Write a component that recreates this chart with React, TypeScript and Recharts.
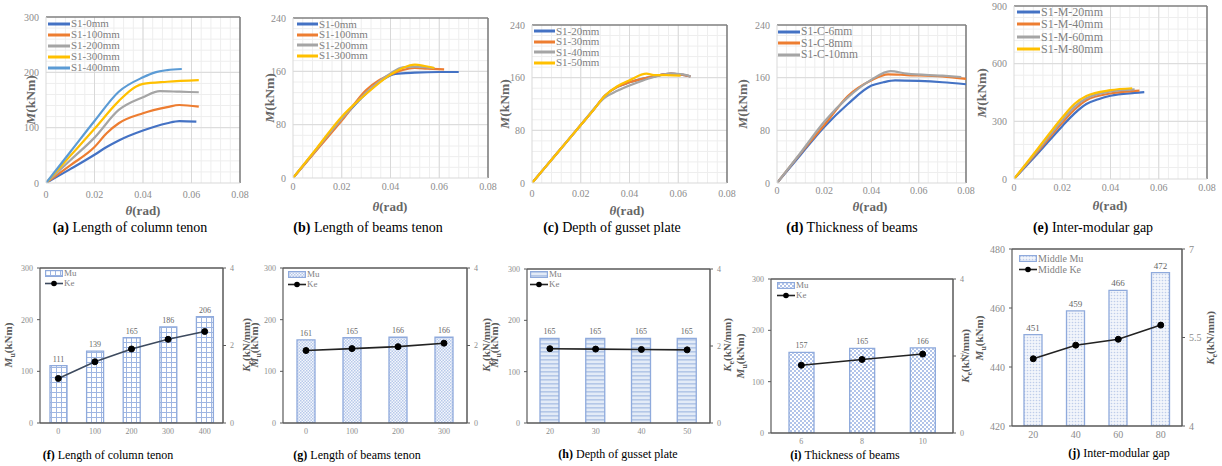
import React from 'react';
import {
  LineChart, Line, XAxis, YAxis, ReferenceLine, ComposedChart, Bar, LabelList, Legend,
} from 'recharts';

const FONT = '"Liberation Serif", "Times New Roman", serif';

// ---------- top row: moment-rotation curves ----------
const thetaTicks = [0, 0.02, 0.04, 0.06, 0.08];
const yTicks300 = [0, 100, 200, 300];
const yTicks240 = [0, 80, 160, 240];
const yTicks900 = [0, 300, 600, 900];

const colBlue = '#4472C4';
const colOrange = '#ED7D31';
const colGray = '#A5A5A5';
const colYellow = '#FFC000';
const colLightBlue = '#5B9BD5';

type Pt = [number, number];

// (a) Length of column tenon
const aNames = ['S1-0mm', 'S1-100mm', 'S1-200mm', 'S1-300mm', 'S1-400mm'];
const a0: Pt[] = [[0, 0], [0.01, 25], [0.02, 51], [0.025, 65], [0.03, 77], [0.04, 95], [0.05, 108], [0.055, 112], [0.062, 111]];
const a100: Pt[] = [[0, 0], [0.01, 32], [0.02, 65], [0.025, 90], [0.03, 108], [0.04, 126], [0.05, 137], [0.055, 141], [0.063, 138]];
const a200: Pt[] = [[0, 0], [0.01, 41], [0.02, 82], [0.03, 132], [0.04, 155], [0.047, 166], [0.055, 165], [0.063, 164]];
const a300: Pt[] = [[0, 0], [0.01, 49], [0.02, 98], [0.03, 148], [0.037, 174], [0.04, 179], [0.05, 183], [0.063, 186]];
const a400: Pt[] = [[0, 0], [0.01, 56], [0.02, 112], [0.03, 165], [0.04, 191], [0.045, 200], [0.05, 204], [0.056, 206]];

// (b) Length of beams tenon
const bNames = ['S1-0mm', 'S1-100mm', 'S1-200mm', 'S1-300mm'];
const b0: Pt[] = [[0, 0], [0.01, 44], [0.02, 88], [0.03, 127], [0.037, 148], [0.042, 156], [0.05, 158], [0.06, 159], [0.068, 159]];
const b100: Pt[] = [[0, 0], [0.01, 43], [0.02, 86], [0.03, 132], [0.035, 146], [0.04, 155], [0.045, 162], [0.05, 165], [0.055, 164], [0.062, 163]];
const b200: Pt[] = [[0, 0], [0.01, 45], [0.02, 89], [0.03, 128], [0.04, 157], [0.045, 166], [0.05, 167], [0.055, 166], [0.058, 165]];
const b300: Pt[] = [[0, 0], [0.01, 46], [0.02, 92], [0.025, 110], [0.03, 126], [0.04, 155], [0.045, 165], [0.05, 170], [0.054, 168], [0.058, 165]];

// (c) Depth of gusset plate
const cNames = ['S1-20mm', 'S1-30mm', 'S1-40mm', 'S1-50mm'];
const c20: Pt[] = [[0, 0], [0.01, 44], [0.02, 88], [0.025, 110], [0.03, 133], [0.035, 146], [0.04, 153], [0.05, 162], [0.057, 166], [0.065, 162]];
const c30: Pt[] = [[0, 0], [0.01, 44], [0.02, 88], [0.025, 110], [0.03, 133], [0.035, 146], [0.04, 153], [0.05, 162], [0.057, 166], [0.065, 162]];
const c40: Pt[] = [[0, 0], [0.01, 44], [0.02, 88], [0.025, 111], [0.03, 130], [0.035, 140], [0.04, 148], [0.045, 155], [0.05, 161], [0.057, 166], [0.062, 165], [0.065, 162]];
const c50: Pt[] = [[0, 0], [0.01, 44], [0.02, 88], [0.025, 110], [0.03, 133], [0.035, 147], [0.04, 156], [0.047, 166], [0.05, 164], [0.055, 164], [0.061, 163]];

// (d) Thickness of beams
const dNames = ['S1-C-6mm', 'S1-C-8mm', 'S1-C-10mm'];
const d6: Pt[] = [[0, 0], [0.01, 43], [0.02, 85], [0.03, 120], [0.04, 148], [0.045, 153], [0.05, 156], [0.06, 155], [0.07, 153], [0.08, 150]];
const d8: Pt[] = [[0, 0], [0.01, 45], [0.02, 88], [0.03, 132], [0.04, 156], [0.047, 165], [0.055, 164], [0.07, 162], [0.08, 158]];
const d10: Pt[] = [[0, 0], [0.01, 46], [0.02, 93], [0.03, 130], [0.04, 157], [0.048, 170], [0.055, 166], [0.07, 163], [0.078, 161]];

// (e) Inter-modular gap
const eNames = ['S1-M-20mm', 'S1-M-40mm', 'S1-M-60mm', 'S1-M-80mm'];
const e20: Pt[] = [[0, 0], [0.01, 135], [0.02, 275], [0.025, 340], [0.03, 390], [0.035, 415], [0.04, 433], [0.05, 448], [0.054, 452]];
const e40: Pt[] = [[0, 0], [0.01, 145], [0.02, 292], [0.025, 360], [0.03, 410], [0.04, 445], [0.05, 458], [0.052, 460]];
const e60: Pt[] = [[0, 0], [0.01, 152], [0.02, 305], [0.025, 375], [0.03, 420], [0.04, 455], [0.05, 466]];
const e80: Pt[] = [[0, 0], [0.01, 160], [0.02, 320], [0.025, 390], [0.03, 432], [0.04, 462], [0.049, 472]];

// ---------- bottom row: Mu bars + Ke line ----------
const fCats = ['0', '100', '200', '300', '400'];
const fMu = [111, 139, 165, 186, 206];
const fKe = [1.15, 1.58, 1.91, 2.16, 2.36];

const gCats = ['0', '100', '200', '300'];
const gMu = [161, 165, 166, 166];
const gKe = [1.87, 1.92, 1.97, 2.06];

const hCats = ['20', '30', '40', '50'];
const hMu = [165, 165, 165, 165];
const hKe = [1.93, 1.92, 1.91, 1.9];

const iCats = ['6', '8', '10'];
const iMu = [157, 165, 166];
const iKe = [1.76, 1.91, 2.05];

const jCats = ['20', '40', '60', '80'];
const jMu = [451, 459, 466, 472];
const jKe = [5.14, 5.37, 5.47, 5.71];

const muTicks = [0, 100, 200, 300];
const keTicks = [0, 2, 4];
const jMuTicks = [420, 440, 460, 480];
const jKeTicks = [4, 5.5, 7];

// ---------- helpers ----------
const toObj = (arr: Pt[]) => arr.map(([x, y]) => ({ x, y }));
const fmtTheta = (v: number) => (v === 0 ? '0' : String(v));
const stepList = (max: number, step: number) => {
  const out: number[] = [];
  for (let i = 1; step * i < max - 1e-9; i++) out.push(+(step * i).toFixed(6));
  return out;
};

type Series = { name: string; color: string; data: Pt[] };

function Abs({ x, y, rotate, size, color, children, bold }: any) {
  return (
    <div
      style={{
        position: 'absolute', left: x, top: y,
        transform: `translate(-50%,-50%)${rotate ? ' rotate(-90deg)' : ''}`,
        fontSize: size, color, whiteSpace: 'nowrap', fontFamily: FONT,
        fontWeight: bold ? 700 : 400, lineHeight: 1,
      }}
    >
      {children}
    </div>
  );
}

function CurvePanel(props: {
  rect: [number, number, number, number];
  yTicks: number[];
  yMinorStep: number;
  series: Series[];
  legend: { x: number; y: number; step: number; size: number; lineW: number };
  tickGap: number;
  yLab: [number, number];
  xLab: [number, number];
  cap: [number, number];
  capTag: string;
  capText: string;
}) {
  const { rect, yTicks, yMinorStep, series, legend, tickGap, yLab, xLab, cap, capTag, capText } = props;
  const [x1, y1, x2, y2] = rect;
  const YW = 46, XH = 30, MT = 6, MR = 14;
  const w = x2 - x1 + YW + MR;
  const h = y2 - y1 + MT + XH;
  const yMax = yTicks[yTicks.length - 1];
  const left = x1 - YW, top = y1 - MT;
  const xMinor = stepList(0.08, 0.004);
  const yMinor = stepList(yMax, yMinorStep);
  const tickStyle = { fontSize: 10, fill: '#8c8c8c', fontFamily: FONT };
  return (
    <>
      <div style={{ position: 'absolute', left, top }}>
        <LineChart width={w} height={h} margin={{ top: MT, right: MR, bottom: 0, left: 0 }}>
          <XAxis type="number" dataKey="x" domain={[0, 0.08]} ticks={thetaTicks} tickFormatter={fmtTheta}
            tick={tickStyle} tickLine={false} tickSize={0} tickMargin={tickGap} height={XH}
            axisLine={{ stroke: '#d9d9d9' }} allowDataOverflow />
          <YAxis type="number" domain={[0, yMax]} ticks={yTicks} tick={tickStyle} tickLine={false}
            tickSize={0} tickMargin={7} width={YW} axisLine={{ stroke: '#d9d9d9' }} allowDataOverflow />
          {xMinor.map((v) => <ReferenceLine key={'mx' + v} x={v} stroke="#eeeeee" strokeWidth={1} />)}
          {yMinor.map((v) => <ReferenceLine key={'my' + v} y={v} stroke="#eeeeee" strokeWidth={1} />)}
          {thetaTicks.slice(1, -1).map((v) => <ReferenceLine key={'Mx' + v} x={v} stroke="#d9d9d9" />)}
          {yTicks.slice(1, -1).map((v) => <ReferenceLine key={'My' + v} y={v} stroke="#d9d9d9" />)}
          <ReferenceLine y={yMax} stroke="#7f7f7f" strokeWidth={1.6} />
          <ReferenceLine x={0.08} stroke="#7f7f7f" strokeWidth={1.6} />
          {series.map((s) => (
            <Line key={s.name} name={s.name} data={toObj(s.data)} dataKey="y" type="monotone"
              stroke={s.color} strokeWidth={2.2} dot={false} isAnimationActive={false} />
          ))}
          <Legend layout="vertical" align="center" verticalAlign="middle"
            wrapperStyle={{ left: legend.x - left, top: legend.y - top, width: 'auto', height: 'auto' }}
            content={() => (
              <div style={{ fontFamily: FONT }}>
                {series.map((s) => (
                  <div key={s.name} style={{ display: 'flex', alignItems: 'center', height: legend.step }}>
                    <svg width={legend.lineW} height={4} style={{ display: 'block' }}>
                      <line x1={0} y1={2} x2={legend.lineW} y2={2} stroke={s.color} strokeWidth={3} />
                    </svg>
                    <span style={{ fontSize: legend.size, color: '#7f7f7f', marginLeft: 1, lineHeight: 1 }}>{s.name}</span>
                  </div>
                ))}
              </div>
            )} />
        </LineChart>
      </div>
      <Abs x={yLab[0]} y={yLab[1]} rotate size={13.5} color="#666" bold><i>M</i>(kNm)</Abs>
      <Abs x={xLab[0]} y={xLab[1]} size={13} color="#666" bold><i>θ</i>(rad)</Abs>
      <Abs x={cap[0]} y={cap[1]} size={14} color="#000"><b>{capTag}</b> {capText}</Abs>
    </>
  );
}

function PatternDef({ id, kind }: { id: string; kind: string }) {
  if (kind === 'grid') {
    return (
      <pattern id={id} width={5} height={5} patternUnits="userSpaceOnUse">
        <rect width={5} height={5} fill="#ffffff" />
        <path d="M0 0.5H5M0.5 0V5" stroke="#9fb6e2" strokeWidth={1} />
      </pattern>
    );
  }
  if (kind === 'dots') {
    return (
      <pattern id={id} width={3} height={3} patternUnits="userSpaceOnUse">
        <rect width={3} height={3} fill="#f4f7fc" />
        <rect width={1.5} height={1.5} fill="#b8c9ea" />
        <rect x={1.5} y={1.5} width={1.5} height={1.5} fill="#b8c9ea" />
      </pattern>
    );
  }
  if (kind === 'stripes') {
    return (
      <pattern id={id} width={4} height={4} patternUnits="userSpaceOnUse">
        <rect width={4} height={4} fill="#e3ebf7" />
        <rect width={4} height={1.6} fill="#b4c7e7" />
      </pattern>
    );
  }
  if (kind === 'cross') {
    return (
      <pattern id={id} width={4} height={4} patternUnits="userSpaceOnUse">
        <rect width={4} height={4} fill="#ffffff" />
        <path d="M0 0L4 4M4 0L0 4" stroke="#a9bde6" strokeWidth={0.9} />
      </pattern>
    );
  }
  return (
    <pattern id={id} width={3} height={3} patternUnits="userSpaceOnUse">
      <rect width={3} height={3} fill="#f2f5fb" />
      <circle cx={1.5} cy={1.5} r={0.8} fill="#bfcdea" />
    </pattern>
  );
}

function BarPanel(props: {
  id: string;
  rect: [number, number, number, number];
  cats: string[];
  mu: number[];
  ke: number[];
  lTicks: number[];
  rTicks: number[];
  barSize: number;
  pattern: string;
  lineColor: string;
  legend: { x: number; y: number; step: number; size: number };
  muName: string;
  keName: string;
  tickSize: number;
  labelSize: number;
  yLabL: [number, number];
  yLabR: [number, number];
  cap: [number, number];
  capTag: string;
  capText: string;
}) {
  const p = props;
  const [x1, y1, x2, y2] = p.rect;
  const YWL = 34, YWR = 24, XH = 24, MT = 6;
  const w = x2 - x1 + YWL + YWR;
  const h = y2 - y1 + MT + XH;
  const left = x1 - YWL, top = y1 - MT;
  const data = p.cats.map((c, i) => ({ cat: c, mu: p.mu[i], ke: p.ke[i] }));
  const tickStyle = { fontSize: p.tickSize, fill: '#8c8c8c', fontFamily: FONT };
  const patId = 'pat-' + p.id;
  const frame = '#595959';
  return (
    <>
      <div style={{ position: 'absolute', left, top }}>
        <ComposedChart width={w} height={h} data={data} margin={{ top: MT, right: 0, bottom: 0, left: 0 }}>
          <defs>
            <PatternDef id={patId} kind={p.pattern} />
          </defs>
          <XAxis dataKey="cat" tick={tickStyle} tickLine={false} tickSize={0} tickMargin={5} height={XH}
            axisLine={{ stroke: frame, strokeWidth: 1.5 }} />
          <YAxis yAxisId="l" domain={[p.lTicks[0], p.lTicks[p.lTicks.length - 1]]} ticks={p.lTicks}
            tick={tickStyle} tickLine={{ stroke: frame }} tickSize={3} tickMargin={4} width={YWL}
            axisLine={{ stroke: frame, strokeWidth: 1.2 }} allowDataOverflow />
          <YAxis yAxisId="r" orientation="right" domain={[p.rTicks[0], p.rTicks[p.rTicks.length - 1]]}
            ticks={p.rTicks} tick={tickStyle} tickLine={{ stroke: frame }} tickSize={3} tickMargin={4}
            width={YWR} axisLine={{ stroke: frame, strokeWidth: 1.5 }} allowDataOverflow />
          <ReferenceLine yAxisId="l" y={p.lTicks[p.lTicks.length - 1]} stroke={frame} strokeWidth={1.5} />
          <Bar yAxisId="l" dataKey="mu" name={p.muName} barSize={p.barSize} fill={`url(#${patId})`}
            stroke="#8faadc" strokeWidth={1.3} isAnimationActive={false}>
            <LabelList dataKey="mu" position="top" offset={4} fontSize={p.labelSize} fill="#666" fontFamily={FONT} />
          </Bar>
          <Line yAxisId="r" dataKey="ke" name={p.keName} type="linear" stroke={p.lineColor} strokeWidth={1.6}
            dot={{ r: 3, fill: '#000', stroke: '#000', strokeWidth: 1 }} isAnimationActive={false} />
          <Legend layout="vertical" align="center" verticalAlign="middle"
            wrapperStyle={{ left: p.legend.x - left, top: p.legend.y - top, width: 'auto', height: 'auto' }}
            content={() => (
              <div style={{ fontFamily: FONT, color: '#7f7f7f', fontSize: p.legend.size, lineHeight: 1 }}>
                <div style={{ display: 'flex', alignItems: 'center', height: p.legend.step }}>
                  <svg width={18} height={7} style={{ display: 'block' }}>
                    <rect x={0.6} y={0.6} width={16.8} height={5.8} fill={`url(#${patId})`} stroke="#8faadc" strokeWidth={1.2} />
                  </svg>
                  <span style={{ marginLeft: 1 }}>{p.muName}</span>
                </div>
                <div style={{ display: 'flex', alignItems: 'center', height: p.legend.step }}>
                  <svg width={18} height={7} style={{ display: 'block' }}>
                    <line x1={0} y1={3.5} x2={18} y2={3.5} stroke={p.lineColor} strokeWidth={1.6} />
                    <circle cx={9} cy={3.5} r={2.8} fill="#000" />
                  </svg>
                  <span style={{ marginLeft: 1 }}>{p.keName}</span>
                </div>
              </div>
            )} />
        </ComposedChart>
      </div>
      <Abs x={p.yLabL[0]} y={p.yLabL[1]} rotate size={11} color="#595959" bold>
        <i>M</i><sub style={{ fontSize: 8 }}>u</sub>(kNm)
      </Abs>
      <Abs x={p.yLabR[0]} y={p.yLabR[1]} rotate size={11} color="#595959" bold>
        <i>K</i><sub style={{ fontSize: 8 }}>e</sub>(kN/mm)
      </Abs>
      <Abs x={p.cap[0]} y={p.cap[1]} size={12} color="#000"><b>{p.capTag}</b> {p.capText}</Abs>
    </>
  );
}

export default function App() {
  return (
    <div style={{ position: 'absolute', left: 0, top: 0, width: 1222, height: 466, background: '#fff', overflow: 'hidden', fontFamily: FONT }}>
      <CurvePanel rect={[46, 17, 240, 183]} yTicks={yTicks300} yMinorStep={20}
        series={[
          { name: aNames[0], color: colBlue, data: a0 },
          { name: aNames[1], color: colOrange, data: a100 },
          { name: aNames[2], color: colGray, data: a200 },
          { name: aNames[3], color: colYellow, data: a300 },
          { name: aNames[4], color: colLightBlue, data: a400 },
        ]}
        legend={{ x: 48, y: 18, step: 11, size: 11, lineW: 22 }} tickGap={8}
        yLab={[31, 100]} xLab={[143, 210]} cap={[130, 228]} capTag="(a)" capText="Length of column tenon" />
      <CurvePanel rect={[293, 18, 488, 178]} yTicks={yTicks240} yMinorStep={16}
        series={[
          { name: bNames[0], color: colBlue, data: b0 },
          { name: bNames[1], color: colOrange, data: b100 },
          { name: bNames[2], color: colGray, data: b200 },
          { name: bNames[3], color: colYellow, data: b300 },
        ]}
        legend={{ x: 297, y: 19, step: 10.5, size: 11, lineW: 21 }} tickGap={5}
        yLab={[270, 98]} xLab={[390, 206]} cap={[368, 228]} capTag="(b)" capText="Length of beams tenon" />
      <CurvePanel rect={[532, 25, 727, 183]} yTicks={yTicks240} yMinorStep={16}
        series={[
          { name: cNames[0], color: colBlue, data: c20 },
          { name: cNames[1], color: colOrange, data: c30 },
          { name: cNames[2], color: colGray, data: c40 },
          { name: cNames[3], color: colYellow, data: c50 },
        ]}
        legend={{ x: 534, y: 26, step: 10.5, size: 11, lineW: 21 }} tickGap={7}
        yLab={[505, 104]} xLab={[627, 210]} cap={[612, 228]} capTag="(c)" capText="Depth of gusset plate" />
      <CurvePanel rect={[777, 25, 966, 183]} yTicks={yTicks240} yMinorStep={16}
        series={[
          { name: dNames[0], color: colBlue, data: d6 },
          { name: dNames[1], color: colOrange, data: d8 },
          { name: dNames[2], color: colGray, data: d10 },
        ]}
        legend={{ x: 778, y: 26, step: 11.5, size: 11.5, lineW: 22 }} tickGap={4}
        yLab={[743, 104]} xLab={[870, 206]} cap={[852, 228]} capTag="(d)" capText="Thickness of beams" />
      <CurvePanel rect={[1014, 6, 1207, 179]} yTicks={yTicks900} yMinorStep={60}
        series={[
          { name: eNames[0], color: colBlue, data: e20 },
          { name: eNames[1], color: colOrange, data: e40 },
          { name: eNames[2], color: colGray, data: e60 },
          { name: eNames[3], color: colYellow, data: e80 },
        ]}
        legend={{ x: 1017, y: 6, step: 12.3, size: 12, lineW: 23 }} tickGap={5}
        yLab={[982, 93]} xLab={[1110, 205]} cap={[1093, 228]} capTag="(e)" capText="Inter-modular gap" />

      <BarPanel id="f" rect={[40, 268, 223, 423]} cats={fCats} mu={fMu} ke={fKe} lTicks={muTicks} rTicks={keTicks}
        barSize={17} pattern="grid" lineColor="#3d4a5e" legend={{ x: 45, y: 268, step: 10, size: 9 }}
        muName="Mu" keName="Ke" tickSize={8} labelSize={8}
        yLabL={[10, 345]} yLabR={[248, 345]} cap={[108, 455]} capTag="(f)" capText="Length of column tenon" />
      <BarPanel id="g" rect={[283, 268, 467, 423]} cats={gCats} mu={gMu} ke={gKe} lTicks={muTicks} rTicks={keTicks}
        barSize={18} pattern="dots" lineColor="#222" legend={{ x: 288, y: 269, step: 10, size: 9 }}
        muName="Mu" keName="Ke" tickSize={8} labelSize={8}
        yLabL={[256, 345]} yLabR={[488, 345]} cap={[357, 455]} capTag="(g)" capText="Length of beams tenon" />
      <BarPanel id="h" rect={[527, 269, 710, 423]} cats={hCats} mu={hMu} ke={hKe} lTicks={muTicks} rTicks={keTicks}
        barSize={19} pattern="stripes" lineColor="#222" legend={{ x: 530, y: 269, step: 10, size: 9 }}
        muName="Mu" keName="Ke" tickSize={8} labelSize={8}
        yLabL={[496, 345]} yLabR={[729, 345]} cap={[618, 454]} capTag="(h)" capText="Depth of gusset plate" />
      <BarPanel id="i" rect={[771, 279, 953, 433]} cats={iCats} mu={iMu} ke={iKe} lTicks={muTicks} rTicks={keTicks}
        barSize={25} pattern="cross" lineColor="#222" legend={{ x: 777, y: 280, step: 10, size: 9 }}
        muName="Mu" keName="Ke" tickSize={8} labelSize={8}
        yLabL={[742, 356]} yLabR={[967, 356]} cap={[845, 455]} capTag="(i)" capText="Thickness of beams" />
      <BarPanel id="j" rect={[1012, 249, 1182, 426]} cats={jCats} mu={jMu} ke={jKe} lTicks={jMuTicks} rTicks={jKeTicks}
        barSize={18} pattern="fine" lineColor="#222" legend={{ x: 1019, y: 253, step: 11, size: 10 }}
        muName="Middle Mu" keName="Middle Ke" tickSize={10} labelSize={9}
        yLabL={[981, 338]} yLabR={[1212, 338]} cap={[1119, 453]} capTag="(j)" capText="Inter-modular gap" />
    </div>
  );
}
